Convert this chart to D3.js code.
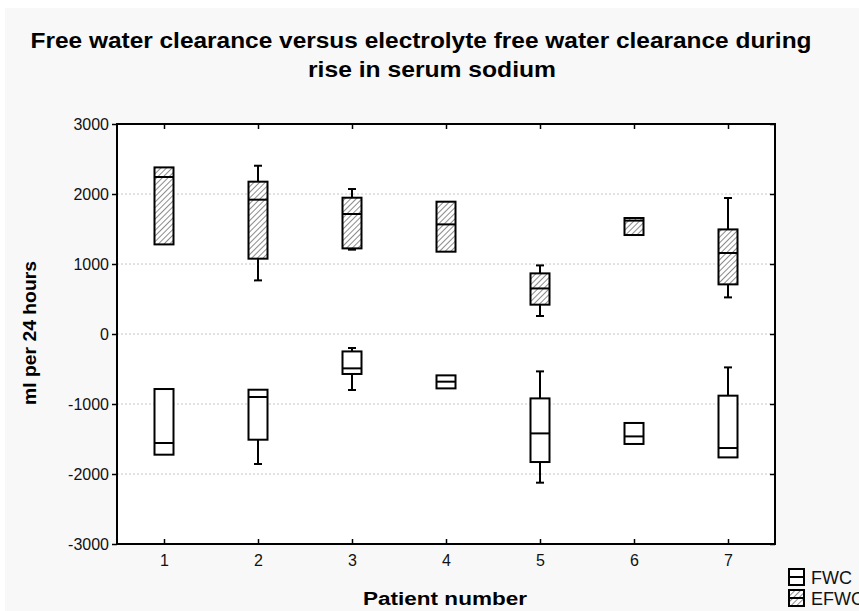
<!DOCTYPE html>
<html>
<head>
<meta charset="utf-8">
<script src="https://cdn.jsdelivr.net/npm/d3@7"></script>
<style>
    body { margin: 0; background: #ffffff; }
    svg { display: block; font-family: Arial, "Liberation Sans", sans-serif; }
</style>
</head>
<body>
<svg id="chart" width="859" height="611"></svg>
<script>

// patient numbers on the x axis
var patients = [1, 2, 3, 4, 5, 6, 7];

// FWC (free water clearance), ml per 24 hours
var fwcMin    = [-1724, -1857, -800, -777, -2124, -1571, -1763];
var fwcQ1     = [-1724, -1510, -571, -777, -1829, -1571, -1763];
var fwcMedian = [-1557,  -900, -491, -681, -1420, -1463, -1629];
var fwcQ3     = [ -786,  -796, -249, -591,  -920, -1271,  -881];
var fwcMax    = [ -786,  -796, -200, -591,  -534, -1271,  -477];

// EFWC (electrolyte free water clearance), ml per 24 hours
var efwcMin    = [1280,  766, 1205, 1176, 257, 1414,  523];
var efwcQ1     = [1280, 1076, 1223, 1176, 419, 1414,  709];
var efwcMedian = [2243, 1919, 1714, 1566, 651, 1620, 1157];
var efwcQ3     = [2380, 2176, 1947, 1890, 866, 1657, 1494];
var efwcMax    = [2380, 2404, 2071, 1890, 980, 1657, 1943];

var yTicks = [-3000, -2000, -1000, 0, 1000, 2000, 3000];

var titleLines = ["Free water clearance versus electrolyte free water clearance during",
    "rise in serum sodium"];
var seriesNames = ["FWC", "EFWC"];

var svg = d3.select("#chart");

var plot = {left: 117, top: 124, right: 775, bottom: 544};
var boxWidth = 19;
var capWidth = 8;

svg.append("rect")
    .attr("x", 5).attr("y", 8)
    .attr("width", 854).attr("height", 603)
    .attr("fill", "#f8f8f8");

var defs = svg.append("defs");
var hatch = defs.append("pattern")
    .attr("id", "hatch")
    .attr("patternUnits", "userSpaceOnUse")
    .attr("width", 4).attr("height", 4)
    .attr("patternTransform", "rotate(45)");
hatch.append("rect")
    .attr("width", 4).attr("height", 4)
    .attr("fill", "#ffffff");
hatch.append("line")
    .attr("x1", 0).attr("y1", 0)
    .attr("x2", 0).attr("y2", 4)
    .attr("stroke", "#6e6e6e")
    .attr("stroke-width", 1.6);

var x = d3.scaleLinear()
    .domain([0.5, 7.5])
    .range([plot.left, plot.right]);

var y = d3.scaleLinear()
    .domain([-3000, 3000])
    .range([plot.bottom, plot.top]);

// plot background
svg.append("rect")
    .attr("x", plot.left).attr("y", plot.top)
    .attr("width", plot.right - plot.left)
    .attr("height", plot.bottom - plot.top)
    .attr("fill", "#ffffff");

// grid
svg.append("g")
    .selectAll("line")
    .data(yTicks.filter(function (d) { return d > -3000 && d < 3000; }))
    .enter().append("line")
    .attr("x1", plot.left).attr("x2", plot.right)
    .attr("y1", function (d) { return y(d); })
    .attr("y2", function (d) { return y(d); })
    .attr("stroke", "#c4c4c4")
    .attr("stroke-dasharray", "2,2");

// axes (hyphen minus like the original, not d3's unicode minus)
var plainNumber = function (d) { return String(d); };

svg.append("g")
    .attr("transform", "translate(" + plot.left + ",0)")
    .call(d3.axisLeft(y).tickValues(yTicks).tickSize(5).tickPadding(3).tickFormat(plainNumber));

svg.append("g")
    .attr("transform", "translate(0," + plot.bottom + ")")
    .call(d3.axisBottom(x).tickValues(patients).tickSize(-5).tickPadding(11).tickFormat(plainNumber));

svg.append("g")
    .attr("transform", "translate(0," + plot.top + ")")
    .call(d3.axisTop(x).tickValues(patients).tickSize(-5).tickFormat(""));

svg.append("g")
    .attr("transform", "translate(" + plot.right + ",0)")
    .call(d3.axisRight(y).tickValues(yTicks).tickSize(-5).tickFormat(""));

svg.selectAll(".domain").remove();
svg.selectAll(".tick line").attr("stroke", "#000").attr("stroke-width", 1.5);
svg.selectAll(".tick text")
    .attr("font-size", 16)
    .attr("font-family", "Arial, 'Liberation Sans', sans-serif")
    .attr("fill", "#111");

// frame
svg.append("rect")
    .attr("x", plot.left).attr("y", plot.top)
    .attr("width", plot.right - plot.left)
    .attr("height", plot.bottom - plot.top)
    .attr("fill", "none")
    .attr("stroke", "#000")
    .attr("stroke-width", 2);

function buildBoxes(mins, q1s, medians, q3s, maxs) {
    return patients.map(function (p, i) {
        return {patient: p, min: mins[i], q1: q1s[i], median: medians[i], q3: q3s[i], max: maxs[i]};
    });
}

function drawBoxes(data, fill) {
    var g = svg.append("g")
        .selectAll("g")
        .data(data)
        .enter().append("g");

    // whiskers
    g.filter(function (d) { return d.max > d.q3; })
        .append("line")
        .attr("x1", function (d) { return x(d.patient); })
        .attr("x2", function (d) { return x(d.patient); })
        .attr("y1", function (d) { return y(d.max); })
        .attr("y2", function (d) { return y(d.q3); });
    g.filter(function (d) { return d.max > d.q3; })
        .append("line")
        .attr("x1", function (d) { return x(d.patient) - capWidth / 2; })
        .attr("x2", function (d) { return x(d.patient) + capWidth / 2; })
        .attr("y1", function (d) { return y(d.max); })
        .attr("y2", function (d) { return y(d.max); });
    g.filter(function (d) { return d.min < d.q1; })
        .append("line")
        .attr("x1", function (d) { return x(d.patient); })
        .attr("x2", function (d) { return x(d.patient); })
        .attr("y1", function (d) { return y(d.min); })
        .attr("y2", function (d) { return y(d.q1); });
    g.filter(function (d) { return d.min < d.q1; })
        .append("line")
        .attr("x1", function (d) { return x(d.patient) - capWidth / 2; })
        .attr("x2", function (d) { return x(d.patient) + capWidth / 2; })
        .attr("y1", function (d) { return y(d.min); })
        .attr("y2", function (d) { return y(d.min); });

    g.append("rect")
        .attr("x", function (d) { return x(d.patient) - boxWidth / 2; })
        .attr("y", function (d) { return y(d.q3); })
        .attr("width", boxWidth)
        .attr("height", function (d) { return y(d.q1) - y(d.q3); })
        .attr("fill", fill);

    g.append("line")
        .attr("x1", function (d) { return x(d.patient) - boxWidth / 2; })
        .attr("x2", function (d) { return x(d.patient) + boxWidth / 2; })
        .attr("y1", function (d) { return y(d.median); })
        .attr("y2", function (d) { return y(d.median); });

    g.selectAll("line, rect")
        .attr("stroke", "#000")
        .attr("stroke-width", 2);
}

drawBoxes(buildBoxes(fwcMin, fwcQ1, fwcMedian, fwcQ3, fwcMax), "#ffffff");
drawBoxes(buildBoxes(efwcMin, efwcQ1, efwcMedian, efwcQ3, efwcMax), "url(#hatch)");

// title
svg.append("text")
    .attr("x", 421).attr("y", 48)
    .attr("text-anchor", "middle")
    .attr("font-size", 22).attr("font-weight", "bold")
    .attr("textLength", 781).attr("lengthAdjust", "spacingAndGlyphs")
    .text(titleLines[0]);
svg.append("text")
    .attr("x", 432).attr("y", 77)
    .attr("text-anchor", "middle")
    .attr("font-size", 22).attr("font-weight", "bold")
    .attr("textLength", 248).attr("lengthAdjust", "spacingAndGlyphs")
    .text(titleLines[1]);

// axis titles
svg.append("text")
    .attr("transform", "translate(36,333) rotate(-90)")
    .attr("text-anchor", "middle")
    .attr("font-size", 18).attr("font-weight", "bold")
    .attr("textLength", 144).attr("lengthAdjust", "spacingAndGlyphs")
    .text("ml per 24 hours");

svg.append("text")
    .attr("x", 445).attr("y", 605)
    .attr("text-anchor", "middle")
    .attr("font-size", 18).attr("font-weight", "bold")
    .attr("textLength", 164).attr("lengthAdjust", "spacingAndGlyphs")
    .text("Patient number");

// legend (the original has EFWC running off the right edge)
var legend = svg.append("g")
    .selectAll("g")
    .data(seriesNames)
    .enter().append("g")
    .attr("transform", function (d, i) { return "translate(789," + (569 + i * 21) + ")"; });

legend.append("rect")
    .attr("width", 15).attr("height", 16)
    .attr("fill", function (d, i) { return i == 0 ? "#ffffff" : "url(#hatch)"; })
    .attr("stroke", "#000").attr("stroke-width", 2);
legend.append("line")
    .attr("x1", 0).attr("x2", 15)
    .attr("y1", 8).attr("y2", 8)
    .attr("stroke", "#000").attr("stroke-width", 2);
legend.append("text")
    .attr("x", 22).attr("y", 15)
    .attr("font-size", 18)
    .attr("fill", "#111")
    .text(function (d) { return d; });

</script>
</body>
</html>
